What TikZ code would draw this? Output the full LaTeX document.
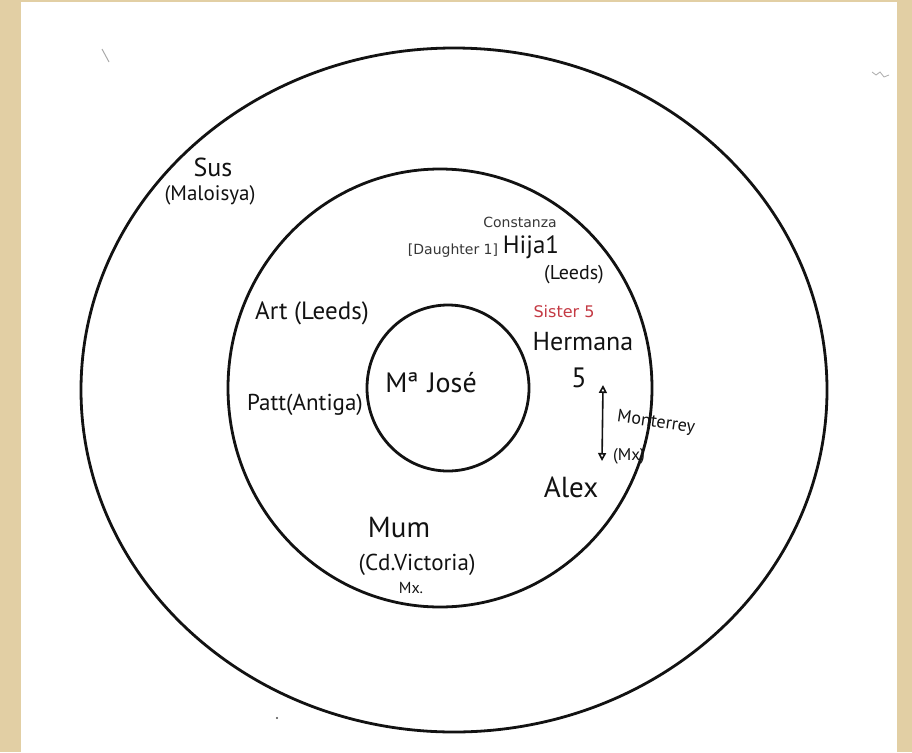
\documentclass[tikz,border=0pt]{standalone}
\usepackage{fontspec}
\usepackage{tikz}
\usetikzlibrary{arrows.meta}
\newfontfamily\handfont{PT Sans}
\newfontfamily\typefont{DejaVu Sans}
\definecolor{paper}{RGB}{226,207,164}
\definecolor{ink}{RGB}{18,18,18}
\definecolor{typegray}{RGB}{55,55,55}
\definecolor{sisterred}{RGB}{196,58,68}
\definecolor{smudge}{RGB}{170,170,170}
\tikzset{
  ring/.style={draw=ink,line width=2.8pt},
  hand/.style={font=\handfont\fontsize{#1}{#1}\selectfont,text=ink,inner sep=1pt,align=center},
  typed/.style={font=\typefont\fontsize{#1}{#1}\selectfont,text=typegray,inner sep=1pt},
  move/.style={{Triangle[open,length=8pt,width=8pt]}-{Triangle[open,length=8pt,width=8pt]},draw=ink,line width=1.6pt}
}
\begin{document}
\begin{tikzpicture}[x=1pt,y=-1pt]
  \useasboundingbox (0,0) rectangle (912,752);
  \fill[paper] (0,0) rectangle (912,752);
  \fill[white] (21,2) rectangle (897,752);

  % circles
  \draw[ring] (454,390) ellipse [x radius=373,y radius=342];
  \draw[ring] (440,388) ellipse [x radius=212,y radius=219];
  \draw[ring] (448,388) ellipse [x radius=81,y radius=83];

  % centre
  \node[hand=28] (me) at (431,383) {Mª\,\,José};

  % middle ring
  \node[typed=14] (constanza) at (520,222) {Constanza};
  \node[typed=14] (daughter) at (453,251) {[Daughter 1]};
  \node[hand=25] (hija) at (531,247) {Hija1};
  \node[hand=20] (leeds) at (574,275) {(Leeds)};
  \node[typed=16,text=sisterred] (sister) at (564,312) {Sister 5};
  \node[hand=26] (hermana) at (583,342) {Hermana};
  \node[hand=28] (five) at (579,378) {5};
  \node[hand=25] (art) at (312,313) {Art (Leeds)};
  \node[hand=23] (patt) at (305,405) {Patt(Antiga)};
  \node[hand=18,rotate=-8,inner sep=0pt] (monterrey) at (656,423) {Monterrey};
  \node[hand=17,inner sep=0pt] (mx) at (629,456) {(Mx)};
  \node[hand=29] (alex) at (571,487) {Alex};
  \node[hand=29] (mum) at (399,528) {Mum};
  \node[hand=23] (victoria) at (417,565) {(Cd.Victoria)};
  \node[hand=16] (mxdot) at (411,588) {Mx.};

  % outer ring
  \node[hand=26] (sus) at (213,167) {Sus};
  \node[hand=21] (malaysia) at (210,195) {(Maloisya)};

  \coordinate (movetop) at (603,385);
  \coordinate (movebot) at (602,461);
  \draw[move] (movebot) -- (movetop);

  % stray marks on the paper
  \draw[smudge,line width=1pt] (102,49) -- (109,62);
  \fill[black!70] (277,718) circle [radius=1.2];
  \draw[smudge,line width=0.8pt] (872,72) -- (876,75) -- (880,72) -- (884,77) -- (889,75);
\end{tikzpicture}
\end{document}
